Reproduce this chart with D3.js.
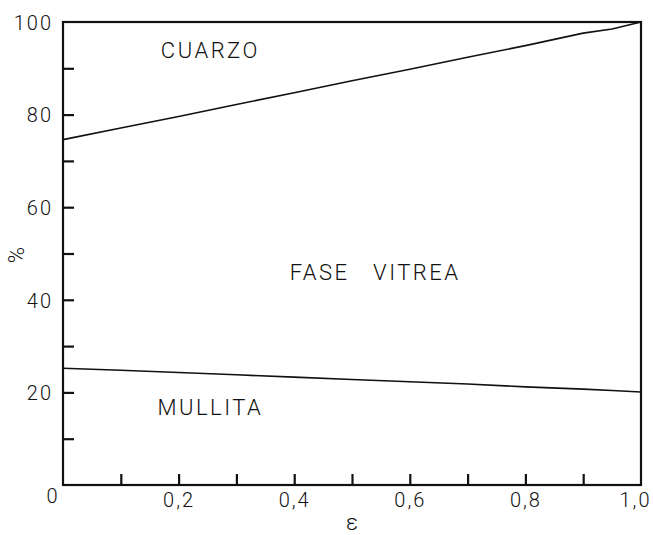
<!DOCTYPE html>
<html>
<head>
<meta charset="utf-8">
<script src="https://cdn.jsdelivr.net/npm/d3@7"></script>
<style>
  body { margin: 0; background: #fff; }
  text { font-family: Roboto, "Liberation Sans", sans-serif; font-weight: 300; fill: #111; }
</style>
</head>
<body>
<svg id="fig" width="653" height="535"></svg>
<script>
// valeurs
var epsilon = [0, 0.1, 0.2, 0.3, 0.4, 0.5, 0.6, 0.7, 0.8, 0.9, 0.95, 1.0];
var limiteCuarzo = [74.6, 77.1, 79.6, 82.2, 84.7, 87.3, 89.8, 92.4, 94.9, 97.6, 98.5, 100];
var limiteMullita = [25.2, 24.8, 24.3, 23.8, 23.3, 22.8, 22.3, 21.8, 21.2, 20.7, 20.4, 20.1];
var ticksY = [10, 20, 30, 40, 50, 60, 70, 80, 90];
var labelsY = [20, 40, 60, 80, 100];
var ticksX = [0.1, 0.2, 0.3, 0.4, 0.5, 0.6, 0.7, 0.8, 0.9];
var labelsX = [0.2, 0.4, 0.6, 0.8, 1.0];
var zones = [
    {nom: "CUARZO", e: 0.255, v: 92.3},
    {nom: "FASE   VITREA", e: 0.54, v: 44.2},
    {nom: "MULLITA", e: 0.255, v: 15.1}
];

var marge = {haut: 22, droite: 12, bas: 50, gauche: 63};
var largeur = 653, hauteur = 535;
var svg = d3.select("#fig");

var xScale = d3.scaleLinear().domain([0, 1]).range([marge.gauche, largeur - marge.droite]);
var yScale = d3.scaleLinear().domain([0, 100]).range([hauteur - marge.bas, marge.haut]);

// courbes
var ligne = function(vals) {
    return d3.line()
        .x(function(d, i) { return xScale(epsilon[i]); })
        .y(function(d) { return yScale(d); })(vals);
};
svg.append("path").attr("d", ligne(limiteCuarzo))
    .style("fill", "none").style("stroke", "#111").style("stroke-width", 1.6);
svg.append("path").attr("d", ligne(limiteMullita))
    .style("fill", "none").style("stroke", "#111").style("stroke-width", 1.6);

// cadre
svg.append("rect")
    .attr("x", xScale(0)).attr("y", yScale(100))
    .attr("width", xScale(1) - xScale(0)).attr("height", yScale(0) - yScale(100))
    .style("fill", "none").style("stroke", "#111").style("stroke-width", 2.2);

// graduations
var yTicks = svg.append("g")
    .attr("transform", `translate(${marge.gauche},0)`)
    .call(d3.axisLeft(yScale).tickValues(ticksY).tickSize(-11).tickFormat(""));
var xTicks = svg.append("g")
    .attr("transform", `translate(0,${hauteur - marge.bas})`)
    .call(d3.axisBottom(xScale).tickValues(ticksX).tickSize(-11).tickFormat(""));
[yTicks, xTicks].forEach(function(g) {
    g.select(".domain").remove();
    g.selectAll("line").style("stroke", "#111").style("stroke-width", 2.2);
});

// étiquettes
var yLab = svg.append("g")
    .attr("transform", `translate(${marge.gauche},0)`)
    .call(d3.axisLeft(yScale).tickValues(labelsY).tickSize(0).tickPadding(10)
        .tickFormat(function(d) { return d; }));
var xLab = svg.append("g")
    .attr("transform", `translate(0,${hauteur - marge.bas})`)
    .call(d3.axisBottom(xScale).tickValues(labelsX).tickSize(0).tickPadding(8)
        .tickFormat(function(d) { return d3.format(".1f")(d).replace(".", ","); }));
[yLab, xLab].forEach(function(g) {
    g.select(".domain").remove();
    g.selectAll("text")
        .style("font-family", "Roboto, 'Liberation Sans', sans-serif")
        .style("font-size", "20px")
        .style("letter-spacing", "2px")
        .style("fill", "#111");
});
yLab.selectAll("text").attr("dy", "0.36em").attr("y", 0);
xLab.selectAll("text").filter(function(d) { return d === 1; }).attr("x", -6);

svg.append("text")
    .attr("x", 52).attr("y", 503)
    .style("text-anchor", "middle").style("font-size", "20px")
    .text("0");

svg.append("text")
    .attr("x", xScale(0.5)).attr("y", 530)
    .style("text-anchor", "middle").style("font-size", "22px")
    .text("ε");

svg.append("text")
    .attr("transform", "translate(24,255) rotate(-90)")
    .style("text-anchor", "middle").style("font-size", "22px")
    .text("%");

svg.selectAll(".zone")
    .data(zones)
    .enter()
    .append("text")
    .attr("class", "zone")
    .attr("x", function(d) { return xScale(d.e); })
    .attr("y", function(d) { return yScale(d.v); })
    .style("text-anchor", "middle")
    .style("font-size", "22px")
    .style("letter-spacing", "2.5px")
    .style("white-space", "pre")
    .text(function(d) { return d.nom; });
</script>
</body>
</html>
